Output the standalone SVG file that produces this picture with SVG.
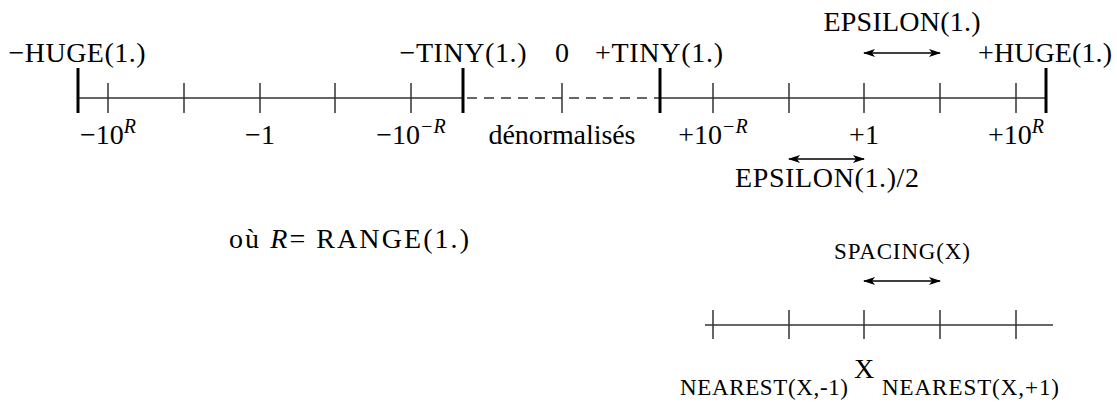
<svg xmlns="http://www.w3.org/2000/svg" width="1117" height="409" viewBox="0 0 1117 409">
<defs>
<marker id="ah" viewBox="0 0 12 10" refX="11" refY="5" markerWidth="12" markerHeight="10" markerUnits="userSpaceOnUse" orient="auto-start-reverse">
<path d="M0,1 L12,5 L0,9 L3,5 Z" fill="#000"/>
</marker>
</defs>
<style>
text{font-family:"Liberation Serif","Times New Roman",serif;fill:#000}
.m{font-size:28px}
.s{font-size:23px}
.axis{stroke:#666;stroke-width:2;fill:none}
.dash{stroke:#666;stroke-width:2;stroke-dasharray:10,7;fill:none}
.tick{stroke:#333;stroke-width:1.5}
.end{stroke:#000;stroke-width:3}
.arr{stroke:#000;stroke-width:1.5;marker-start:url(#ah);marker-end:url(#ah)}
.sup{font-size:20px;font-style:italic}
</style>
<g id="connectors">
<line class="axis" x1="78" y1="98" x2="463" y2="98"/>
<line class="dash" x1="467" y1="98" x2="660" y2="98"/>
<line class="axis" x1="660" y1="98" x2="1046" y2="98"/>
<line class="tick" x1="108" y1="83" x2="108" y2="113"/>
<line class="tick" x1="184" y1="83" x2="184" y2="113"/>
<line class="tick" x1="260" y1="83" x2="260" y2="113"/>
<line class="tick" x1="335" y1="83" x2="335" y2="113"/>
<line class="tick" x1="411" y1="83" x2="411" y2="113"/>
<line class="tick" x1="562" y1="83" x2="562" y2="113"/>
<line class="tick" x1="713" y1="83" x2="713" y2="113"/>
<line class="tick" x1="789" y1="83" x2="789" y2="113"/>
<line class="tick" x1="864" y1="83" x2="864" y2="113"/>
<line class="tick" x1="940" y1="83" x2="940" y2="113"/>
<line class="tick" x1="1016" y1="83" x2="1016" y2="113"/>
<line class="end" x1="78" y1="68" x2="78" y2="113"/>
<line class="end" x1="463" y1="68" x2="463" y2="113"/>
<line class="end" x1="660" y1="68" x2="660" y2="113"/>
<line class="end" x1="1046" y1="68" x2="1046" y2="113"/>
<line class="arr" x1="864" y1="53" x2="940" y2="53"/>
<line class="arr" x1="789" y1="159" x2="864" y2="159"/>
<line class="axis" x1="705" y1="325" x2="1053" y2="325"/>
<line class="tick" x1="713" y1="310" x2="713" y2="339"/>
<line class="tick" x1="789" y1="310" x2="789" y2="339"/>
<line class="tick" x1="864" y1="310" x2="864" y2="339"/>
<line class="tick" x1="940" y1="310" x2="940" y2="339"/>
<line class="tick" x1="1016" y1="310" x2="1016" y2="339"/>
<line class="arr" x1="864" y1="281" x2="940" y2="281"/>
</g>
<g id="top-labels" text-anchor="middle">
<text class="m" x="77" y="62" textLength="137">−HUGE(1.)</text>
<text class="m" x="463" y="62" textLength="127">−TINY(1.)</text>
<text class="m" x="562" y="62">0</text>
<text class="m" x="659" y="62" textLength="128">+TINY(1.)</text>
<text class="m" x="1045" y="62" textLength="134">+HUGE(1.)</text>
<text class="m" x="902" y="31" textLength="157">EPSILON(1.)</text>
</g>
<g id="bottom-labels" text-anchor="middle">
<text class="m" x="108" y="144">−10<tspan class="sup" dy="-11">R</tspan></text>
<text class="m" x="260" y="144">−1</text>
<text class="m" x="411" y="144">−10<tspan class="sup" dy="-11">−R</tspan></text>
<text class="m" x="562" y="144" textLength="147">dénormalisés</text>
<text class="m" x="713" y="144">+10<tspan class="sup" dy="-11">−R</tspan></text>
<text class="m" x="864" y="144">+1</text>
<text class="m" x="1016" y="144">+10<tspan class="sup" dy="-11">R</tspan></text>
<text class="m" x="827" y="187" textLength="184">EPSILON(1.)/2</text>
</g>
<g id="range-note">
<text class="m" x="229" y="248" textLength="240">où <tspan font-style="italic">R</tspan>= RANGE(1.)</text>
</g>
<g id="spacing-diagram">
<text class="s" x="902" y="259" text-anchor="middle" textLength="136">SPACING(X)</text>
<text class="m" x="864" y="378" text-anchor="middle">X</text>
<text class="s" x="848" y="395" text-anchor="end" textLength="168">NEAREST(X,-1)</text>
<text class="s" x="882" y="395" textLength="177">NEAREST(X,+1)</text>
</g>
</svg>
